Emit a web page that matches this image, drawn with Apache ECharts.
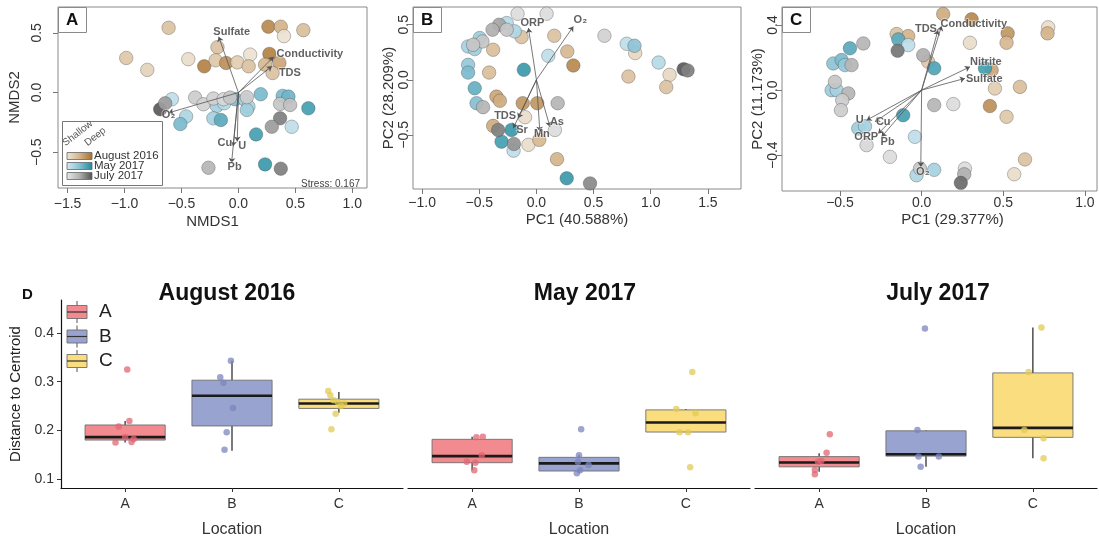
<!DOCTYPE html>
<html>
<head>
<meta charset="utf-8">
<script src="https://cdn.jsdelivr.net/npm/echarts@6/dist/echarts.min.js"></script>
<style>
html, body { margin: 0; padding: 0; background: #fff; }
#chart { width: 1099px; height: 541px; }
</style>
</head>
<body>
<div id="chart"></div>
<script>
var FONT = 'Liberation Sans, Arial, Helvetica, sans-serif';

// ---- panels A-C: sample scores [axis1, axis2, depth (0 shallow .. 1 deep)]
var nmdsAug = [[-0.613,0.543,0.35],[-0.985,0.29,0.3],[-0.80,0.19,0.2],[-0.44,0.28,0.1],[-0.184,0.38,0.35],
  [-0.30,0.22,0.85],[-0.20,0.27,0.3],[-0.108,0.248,0.75],[-0.009,0.253,0.25],[0.103,0.318,0.05],
  [0.09,0.22,0.35],[0.263,0.552,0.8],[0.372,0.552,0.5],[0.40,0.473,0.05],[0.57,0.523,0.4],
  [0.272,0.324,0.85],[0.234,0.234,0.45],[0.36,0.248,0.6],[0.30,0.164,0.35]];
var nmdsMay = [[-0.584,-0.056,0.15],[-0.459,-0.20,0.25],[-0.51,-0.264,0.55],[-0.19,-0.112,0.3],[-0.125,-0.09,0.2],
  [-0.22,-0.216,0.3],[-0.154,-0.23,0.7],[-0.029,-0.056,0.5],[0.059,-0.062,0.3],[0.088,-0.118,0.25],
  [0.074,-0.146,0.35],[0.196,-0.014,0.55],[0.389,-0.028,0.55],[0.439,-0.034,0.6],[0.614,-0.132,0.8],
  [0.468,-0.287,0.15],[0.155,-0.351,0.8],[0.234,-0.602,0.85]];
var nmdsJul = [[-0.687,-0.14,0.95],[-0.643,-0.09,0.6],[-0.38,-0.042,0.25],[-0.307,-0.098,0.2],[-0.22,-0.05,0.2],
  [-0.13,-0.056,0.15],[-0.073,-0.042,0.3],[0.074,-0.039,0.25],[0.366,-0.095,0.3],[0.454,-0.104,0.35],
  [0.366,-0.216,0.75],[0.293,-0.287,0.6],[-0.263,-0.63,0.45],[0.372,-0.638,0.75]];

var pcaBAug = [[-0.13,0.388,0.35],[0.156,0.40,0.35],[-0.379,0.273,0.4],[0.27,0.257,0.45],[0.323,0.13,0.8],
  [-0.414,0.066,0.4],[-0.35,-0.152,0.6],[-0.32,-0.19,0.55],[-0.12,-0.212,0.7],[0.007,-0.212,0.7],
  [-0.10,-0.339,0.1],[-0.379,-0.418,0.55],[-0.07,-0.59,0.1],[0.025,-0.545,0.45],[0.18,-0.72,0.5],
  [0.805,0.03,0.35],[0.864,0.243,0.15],[1.165,0.045,0.15],[1.136,-0.066,0.35]];
var pcaBMay = [[-0.26,0.515,0.2],[-0.19,0.44,0.25],[-0.598,0.303,0.3],[-0.54,0.279,0.35],[-0.496,0.379,0.35],
  [-0.598,0.136,0.4],[-0.598,0.066,0.55],[-0.54,-0.076,0.65],[-0.524,-0.212,0.5],[-0.11,0.091,0.85],
  [0.104,0.218,0.15],[-0.218,-0.455,0.85],[-0.305,-0.561,0.8],[-0.20,-0.643,0.15],[0.265,-0.894,0.85],
  [0.79,0.327,0.15],[0.858,0.309,0.45],[1.069,0.157,0.2]];
var pcaBJul = [[-0.165,0.60,0.1],[0.089,0.60,0.1],[-0.326,0.50,0.55],[-0.384,0.455,0.5],[-0.26,0.455,0.3],
  [-0.472,0.348,0.3],[-0.554,0.318,0.3],[-0.467,-0.248,0.45],[0.186,-0.212,0.45],[-0.335,-0.455,0.75],
  [-0.197,-0.582,0.65],[0.162,-0.455,0.1],[0.595,0.40,0.2],[1.288,0.097,0.95],[1.323,0.085,0.75],
  [0.469,-0.94,0.7]];

var pcaCAug = [[0.132,0.468,0.55],[0.306,0.435,0.8],[-0.153,0.345,0.35],[-0.082,0.332,0.5],[0.04,0.174,0.3],
  [0.296,0.291,0.1],[0.527,0.349,0.7],[0.52,0.291,0.45],[0.775,0.386,0.1],[0.771,0.349,0.5],
  [0.429,0.123,0.6],[0.449,0.01,0.25],[0.602,0.02,0.4],[0.418,-0.098,0.75],[0.52,-0.164,0.3],
  [0.633,-0.426,0.35],[0.567,-0.517,0.1]];
var pcaCMay = [[-0.439,0.257,0.7],[-0.541,0.164,0.45],[-0.49,0.185,0.55],[-0.47,0.154,0.4],[-0.551,0.0,0.35],
  [-0.52,0.0,0.3],[-0.143,0.312,0.7],[-0.082,0.277,0.15],[0.077,0.134,0.75],[-0.113,-0.154,0.8],
  [-0.388,-0.236,0.35],[-0.347,-0.222,0.3],[-0.041,-0.287,0.15],[0.388,0.134,0.8],[-0.031,-0.523,0.25],
  [0.077,-0.49,0.3]];
var pcaCJul = [[-0.357,0.287,0.45],[-0.429,0.154,0.45],[-0.531,0.051,0.3],[-0.449,-0.02,0.45],[-0.486,-0.062,0.25],
  [-0.494,-0.123,0.25],[-0.147,0.242,0.8],[0.01,0.215,0.5],[0.077,-0.092,0.45],[0.194,-0.086,0.1],
  [-0.337,-0.338,0.15],[-0.194,-0.41,0.1],[-0.01,-0.482,0.3],[0.265,-0.482,0.1],[0.261,-0.517,0.5],
  [0.24,-0.57,0.85]];

// fitted environmental vectors [name, axis1, axis2]
var nmdsVectors = [['Sulfate',-0.173,0.468],['Conductivity',0.309,0.30],['TDS',0.294,0.22],
  ['O\u2082',-0.613,-0.17],['Cu',-0.046,-0.451],['U',-0.01,-0.41],['Pb',-0.06,-0.59]];
var pcaBVectors = [['ORP',-0.07,0.47],['O\u2082',0.323,0.485],['TDS',-0.16,-0.348],
  ['Sr',-0.203,-0.439],['Mn',0.03,-0.47],['As',0.118,-0.425]];
var pcaCVectors = [['TDS',0.10,0.369],['Conductivity',0.122,0.394],['Nitrite',0.296,0.143],
  ['Sulfate',0.265,0.072],['U',-0.337,-0.185],['Cu',-0.286,-0.195],['ORP',-0.266,-0.267],
  ['Pb',-0.245,-0.287],['O\u2082',-0.005,-0.472]];

var ticksA = [-1.5,-1,-0.5,0,0.5,1];
var ticksAy = [-0.5,0,0.5];
var ticksB = [-1,-0.5,0,0.5,1,1.5];
var ticksBy = [-0.5,0,0.5];
var ticksC = [-0.5,0,0.5,1];
var ticksCy = [-0.4,0,0.4];

// ---- panel D: betadisper distances
var locations = ['A','B','C'];
var months = ['August 2016','May 2017','July 2017'];
// [location, min, Q1, median, Q3, max]
var boxAug = [[1,0.175,0.180,0.186,0.211,0.219],[2,0.158,0.209,0.271,0.303,0.343],[3,0.236,0.245,0.255,0.264,0.279]];
var boxMay = [[1,0.118,0.1335,0.147,0.1815,0.187],[2,0.112,0.1164,0.132,0.1445,0.149],[3,0.196,0.1965,0.216,0.242,0.244]];
var boxJul = [[1,0.115,0.125,0.134,0.146,0.153],[2,0.125,0.147,0.1507,0.199,0.2006],[3,0.1425,0.1856,0.205,0.318,0.4115]];
// jittered points [location + jitter, distance]
var ptsAug = [[1.02,0.325],[1.04,0.219],[0.94,0.208],[0.91,0.175],[1.06,0.176],[1.08,0.182],[1.00,0.186],
  [1.99,0.343],[1.89,0.309],[1.92,0.298],[2.01,0.246],[1.95,0.196],[1.93,0.160],
  [2.90,0.281],[2.92,0.272],[2.95,0.262],[2.99,0.258],[2.97,0.234],[2.93,0.202],[3.02,0.250],[3.05,0.255]];
var ptsMay = [[1.04,0.186],[1.10,0.187],[1.09,0.149],[0.95,0.1355],[1.03,0.1335],[1.02,0.118],
  [2.02,0.202],[2.00,0.149],[1.99,0.1355],[2.09,0.129],[1.98,0.112],[2.01,0.118],
  [3.06,0.320],[2.91,0.244],[3.09,0.235],[2.94,0.196],[3.02,0.196],[3.04,0.124]];
var ptsJul = [[1.10,0.192],[1.07,0.154],[0.99,0.1355],[1.02,0.137],[0.96,0.1185],[0.96,0.110],
  [1.99,0.409],[1.92,0.2006],[1.93,0.146],[2.12,0.146],[1.95,0.125],
  [3.08,0.4115],[2.96,0.320],[2.92,0.2006],[3.10,0.1835],[3.10,0.1425]];
var ticksD = [0.1,0.2,0.3,0.4];

// ---- styling
var depthColors = [['#EFE7DA','#D4B48A','#A66E2A'],['#D6EBF3','#86C0D3','#1C8A9A'],['#E8E8E8','#B0B0B0','#505050']];
var groupNames = ['August 2016','May 2017','July 2017'];
var boxFills = ['#F28B8F','#99A3D0','#FADD7E'];
var pointColors = ['#E06673','#7C86BD','#E2CB55'];

var labelLayout = [
  {'Sulfate':['center',13,-5],'Conductivity':['left',3,-3],'TDS':['left',7,7],'O\u2082':['center',0,2],
   'Cu':['right',-1,-3],'U':['left',1,5],'Pb':['center',3,4]},
  {'ORP':['center',4,-5],'O\u2082':['center',7,-6],'TDS':['right',-2,-2],'Sr':['left',3,2],
   'Mn':['center',2,2],'As':['left',0,-5]},
  {'TDS':['right',-1,-1],'Conductivity':['left',-1,-2],'Nitrite':['left',0,-5],'Sulfate':['left',1,1],
   'U':['right',-3,0],'Cu':['left',1,0],'ORP':['right',0,3],'Pb':['left',-1,5],'O\u2082':['center',2,5]}
];

var ordPanels = [
  {grid:{left:58, top:7, width:309, height:181}, x:[-1.584,1.129], y:[-0.80,0.717], xt:ticksA, yt:ticksAy,
   xname:'NMDS1', yname:'NMDS2', xgap:26, ygap:36, xmargin:9, ymargin:14, xpad:0,
   groups:[nmdsAug,nmdsMay,nmdsJul], vectors:nmdsVectors},
  {grid:{left:413, top:7, width:328, height:182}, x:[-1.08,1.79], y:[-0.991,0.661], xt:ticksB, yt:ticksBy,
   xname:'PC1 (40.588%)', yname:'PC2 (28.209%)', xgap:23, ygap:16, xmargin:7, ymargin:2, xpad:0,
   groups:[pcaBAug,pcaBMay,pcaBJul], vectors:pcaBVectors},
  {grid:{left:782, top:7, width:315, height:184}, x:[-0.855,1.074], y:[-0.62,0.511], xt:ticksC, yt:ticksCy,
   xname:'PC1 (29.377%)', yname:'PC2 (11.173%)', xgap:21, ygap:14, xmargin:5, ymargin:2, xpad:26,
   groups:[pcaCAug,pcaCMay,pcaCJul], vectors:pcaCVectors}
];

function fmt(v) {
  var s = Math.abs(v).toFixed(1);
  return v < 0 ? '\u2212' + s : s;
}

var grids = [], xAxes = [], yAxes = [], series = [];
var groupSeries = [[],[],[]];

ordPanels.forEach(function (p, i) {
  grids.push({left:p.grid.left, top:p.grid.top, width:p.grid.width, height:p.grid.height,
    show:true, borderColor:'#8a8a8a', borderWidth:1});
  xAxes.push({gridIndex:i, type:'value', min:p.x[0], max:p.x[1],
    axisLine:{show:false, onZero:false}, splitLine:{show:false},
    axisTick:{show:true, length:5, customValues:p.xt, lineStyle:{color:'#777'}},
    axisLabel:{customValues:p.xt, formatter:fmt, fontSize:14, color:'#333', fontFamily:FONT, margin:p.xmargin},
    name:p.xname, nameLocation:'middle', nameGap:p.xgap,
    nameTextStyle:{fontSize:15, color:'#333', fontFamily:FONT, padding:[0,0,0,p.xpad]}});
  yAxes.push({gridIndex:i, type:'value', min:p.y[0], max:p.y[1],
    axisLine:{show:false, onZero:false}, splitLine:{show:false},
    axisTick:{show:true, length:5, customValues:p.yt, lineStyle:{color:'#777'}},
    axisLabel:{customValues:p.yt, formatter:fmt, fontSize:14, color:'#333', fontFamily:FONT, rotate:90, margin:p.ymargin},
    name:p.yname, nameLocation:'middle', nameGap:p.ygap, nameRotate:90,
    nameTextStyle:{fontSize:15, color:'#333', fontFamily:FONT}});

  p.groups.forEach(function (g, k) {
    groupSeries[k].push(series.length);
    series.push({type:'scatter', name:groupNames[k], xAxisIndex:i, yAxisIndex:i, data:g, symbolSize:13.5,
      itemStyle:{borderColor:'rgba(70,70,70,0.55)', borderWidth:0.7, opacity:0.93}, z:2, silent:true});
  });

  series.push({type:'lines', coordinateSystem:'cartesian2d', xAxisIndex:i, yAxisIndex:i,
    data:p.vectors.map(function (v) { return {coords:[[0,0],[v[1],v[2]]]}; }),
    symbol:['none','arrow'], symbolSize:[0,5],
    lineStyle:{color:'#555', width:0.8, opacity:1}, z:3, silent:true});

  series.push({type:'scatter', xAxisIndex:i, yAxisIndex:i, symbolSize:0, z:4, silent:true,
    data:p.vectors.map(function (v) {
      var l = labelLayout[i][v[0]];
      return {name:v[0], value:[v[1],v[2]], label:{align:l[0], offset:[l[1],l[2]]}};
    }),
    label:{show:true, position:'inside', formatter:'{b}', fontSize:11, fontWeight:'bold',
      color:'#3a3a3a', fontFamily:FONT, textBorderColor:'rgba(255,255,255,0.7)', textBorderWidth:1.5}});
});

// ---- panel D facets
var facetLeft = [61, 408, 755];
var facetBoxes = [boxAug, boxMay, boxJul];
var facetPts = [ptsAug, ptsMay, ptsJul];

function renderBox(params, api) {
  var x = api.value(0);
  var half = 0.375;
  var left = api.coord([x - half, api.value(3)]);
  var right = api.coord([x + half, api.value(3)]);
  var q1 = api.coord([x, api.value(2)]);
  var q3 = api.coord([x, api.value(4)]);
  var lo = api.coord([x, api.value(1)]);
  var hi = api.coord([x, api.value(5)]);
  var fill = boxFills[Math.round(x) - 1];
  return {type:'group', children:[
    {type:'line', shape:{x1:hi[0], y1:hi[1], x2:q3[0], y2:q3[1]}, style:{stroke:'#333', lineWidth:1.3}},
    {type:'line', shape:{x1:q1[0], y1:q1[1], x2:lo[0], y2:lo[1]}, style:{stroke:'#333', lineWidth:1.3}},
    {type:'rect', shape:{x:left[0], y:q3[1], width:right[0] - left[0], height:q1[1] - q3[1]},
      style:{fill:fill, stroke:'#6e6e6e', lineWidth:0.9}},
    {type:'line', shape:{x1:left[0], y1:left[1], x2:right[0], y2:right[1]}, style:{stroke:'#1a1a1a', lineWidth:2.6}}
  ]};
}

facetLeft.forEach(function (lx, f) {
  var gi = 3 + f;
  grids.push({left:lx, top:300, width:342, height:188});
  xAxes.push({gridIndex:gi, type:'value', min:0.4, max:3.6,
    axisLine:{show:true, onZero:false, lineStyle:{color:'#111', width:1.2}}, splitLine:{show:false},
    axisTick:{show:true, length:4, customValues:[1,2,3], lineStyle:{color:'#333'}},
    axisLabel:{customValues:[1,2,3], formatter:function (v) { return locations[Math.round(v) - 1]; },
      fontSize:14, color:'#333', fontFamily:FONT, margin:9},
    name:'Location', nameLocation:'middle', nameGap:34,
    nameTextStyle:{fontSize:16, color:'#333', fontFamily:FONT}});
  yAxes.push({gridIndex:gi, type:'value', min:0.0815, max:0.4678, show:f === 0,
    axisLine:{show:true, onZero:false, lineStyle:{color:'#111', width:1.2}}, splitLine:{show:false},
    axisTick:{show:true, length:4, customValues:ticksD, lineStyle:{color:'#333'}},
    axisLabel:{customValues:ticksD, formatter:function (v) { return v.toFixed(1); },
      fontSize:14, color:'#333', fontFamily:FONT, margin:7},
    name:f === 0 ? 'Distance to Centroid' : '', nameLocation:'middle', nameGap:38,
    nameTextStyle:{fontSize:15, color:'#222', fontFamily:FONT}});

  series.push({type:'custom', xAxisIndex:gi, yAxisIndex:gi, data:facetBoxes[f],
    encode:{x:0, y:[1,2,3,4,5]}, renderItem:renderBox, z:2, silent:true});
  locations.forEach(function (loc, li) {
    series.push({type:'scatter', xAxisIndex:gi, yAxisIndex:gi, symbolSize:6.5, z:3, silent:true,
      data:facetPts[f].filter(function (d) { return Math.round(d[0]) === li + 1; }),
      itemStyle:{color:pointColors[li], opacity:0.75}});
  });
});

var visualMaps = [0,1,2].map(function (k) {
  return {type:'continuous', show:false, dimension:2, min:0, max:1,
    seriesIndex:groupSeries[k], inRange:{color:depthColors[k]}};
});

function panelTag(t, left) {
  return {text:t, left:left, top:7, padding:[4,8,3,8], borderColor:'#8a8a8a', borderWidth:1,
    backgroundColor:'#fff', textStyle:{fontSize:17, fontWeight:'bold', color:'#111', fontFamily:FONT, lineHeight:19}};
}

var titles = [
  panelTag('A', 58), panelTag('B', 413), panelTag('C', 782),
  {text:'Stress: 0.167', right:734, top:174, textStyle:{fontSize:10, fontWeight:'normal', color:'#444', fontFamily:FONT}},
  {text:'D', left:17, top:282, textStyle:{fontSize:15, fontWeight:'bold', color:'#111', fontFamily:FONT}}
];
var titleX = [222, 580, 933];
months.forEach(function (m, f) {
  titles.push({text:m, left:titleX[f], top:277, textAlign:'center',
    textStyle:{fontSize:23, fontWeight:'bold', color:'#111', fontFamily:FONT}});
});

// legend for A (depth gradients)
var legA = [{type:'rect', shape:{x:62.5, y:121.5, width:100, height:64}, style:{fill:'#fff', stroke:'#777', lineWidth:1}},
  {type:'text', x:67, y:148, rotation:Math.PI * 0.21, style:{text:'Shallow', fontSize:10, fill:'#555', fontFamily:FONT, textAlign:'left', textVerticalAlign:'bottom'}},
  {type:'text', x:89, y:148, rotation:Math.PI * 0.21, style:{text:'Deep', fontSize:10, fill:'#555', fontFamily:FONT, textAlign:'left', textVerticalAlign:'bottom'}}];
groupNames.forEach(function (g, k) {
  var y = 152.5 + k * 10;
  legA.push({type:'rect', shape:{x:67, y:y, width:25, height:7},
    style:{fill:new echarts.graphic.LinearGradient(0, 0, 1, 0, [
      {offset:0, color:depthColors[k][0]}, {offset:0.5, color:depthColors[k][1]}, {offset:1, color:depthColors[k][2]}]),
      stroke:'#666', lineWidth:0.8}});
  legA.push({type:'text', x:94, y:y + 3.5, style:{text:g, fontSize:11.5, fill:'#333', fontFamily:FONT, textVerticalAlign:'middle'}});
});

// legend for D (box glyphs)
var legD = [];
locations.forEach(function (loc, li) {
  var c = 312 + li * 24.5;
  legD.push({type:'line', shape:{x1:77, y1:c - 11, x2:77, y2:c + 11}, style:{stroke:'#555', lineWidth:1}});
  legD.push({type:'rect', shape:{x:67, y:c - 6.5, width:20, height:13}, style:{fill:boxFills[li], stroke:'#6e6e6e', lineWidth:0.9}});
  legD.push({type:'line', shape:{x1:67, y1:c, x2:87, y2:c}, style:{stroke:'#333', lineWidth:1.2}});
  legD.push({type:'text', x:99, y:c, style:{text:loc, fontSize:19, fill:'#222', fontFamily:FONT, textVerticalAlign:'middle'}});
});

var myChart = echarts.init(document.getElementById('chart'), null, {renderer:'canvas'});
myChart.setOption({
  animation:false,
  backgroundColor:'#fff',
  textStyle:{fontFamily:FONT},
  title:titles,
  grid:grids,
  xAxis:xAxes,
  yAxis:yAxes,
  visualMap:visualMaps,
  series:series,
  graphic:[{type:'group', z:100, children:legA}, {type:'group', z:100, children:legD}]
});
</script>
</body>
</html>
